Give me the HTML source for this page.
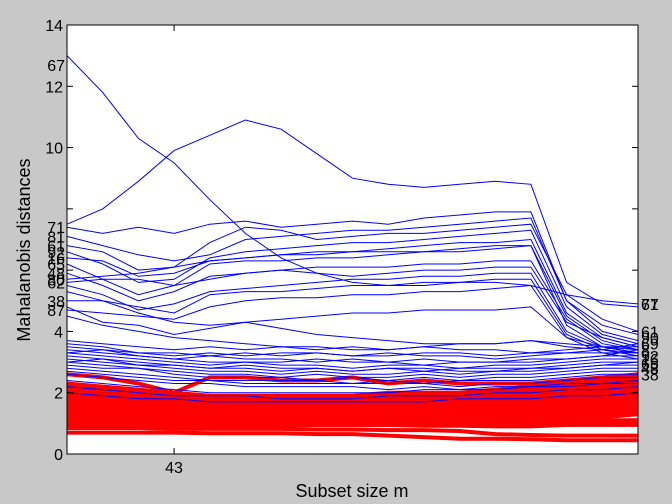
<!DOCTYPE html>
<html><head><meta charset="utf-8"><style>
body{margin:0;background:#c8c8c8;}
svg{display:block;font-family:"Liberation Sans",Arial,sans-serif;}
</style></head><body>
<svg id="chart" width="672" height="504">
<rect width="672" height="504" fill="#c8c8c8"/>
<rect x="67" y="25" width="571" height="429" fill="#fff"/>
<g id="red"></g><g id="blue"></g><g id="labels"></g><g id="axes"></g>
<rect x="67" y="25" width="571" height="429" fill="none" stroke="#000" stroke-width="1"/>
<text x="20" y="240" font-size="18" text-anchor="middle" transform="rotate(-90 30 240)">Mahalanobis distances</text>
<text x="352" y="497" font-size="18" text-anchor="middle">Subset size m</text>
</svg>
<script>
const mValues=[40,41,42,43,44,45,46,47,48,49,50,51,52,53,54,55,56];
const yTicks=[0,2,4,6,8,10,12,14];
const yTickLabels=["0","2","4","","","10","12","14"];
const xTicks=[43];
const blueUpper=[
[13.0,11.8,10.3,9.5,8.3,7.2,6.4,5.9,5.6,5.5,5.5,5.6,5.6,5.5,5.2,5.0,4.9],
[7.5,8.0,8.9,9.9,10.4,10.9,10.6,9.8,9.0,8.8,8.7,8.8,8.9,8.8,5.6,4.9,4.8],
[7.4,7.2,7.4,7.2,7.5,7.6,7.4,7.5,7.6,7.5,7.7,7.8,7.9,7.9,5.0,4.2,3.9],
[7.1,6.8,6.5,6.3,6.5,7.0,7.1,7.2,7.3,7.3,7.4,7.5,7.6,7.7,5.0,4.0,3.7],
[6.8,6.6,6.0,6.1,6.9,7.4,7.3,7.0,7.1,7.2,7.2,7.3,7.4,7.5,5.2,4.4,4.0],
[6.6,6.2,5.6,5.7,6.4,6.6,6.7,6.8,6.9,6.9,7.0,7.1,7.2,7.3,4.8,3.9,3.6],
[6.4,6.3,5.8,5.9,6.3,6.4,6.5,6.6,6.6,6.7,6.8,6.9,6.9,7.0,4.6,3.8,3.5],
[6.2,5.7,5.2,5.5,6.2,6.3,6.3,6.4,6.4,6.5,6.6,6.6,6.7,6.8,4.5,3.7,3.4],
[5.9,5.5,5.0,5.3,5.8,5.9,6.0,6.1,6.1,6.1,6.2,6.2,6.3,6.3,4.4,3.6,3.4],
[5.7,5.8,5.9,6.1,6.3,6.4,6.5,6.5,6.6,6.6,6.6,6.7,6.8,6.8,4.2,3.5,3.3],
[5.6,5.7,5.7,5.5,5.7,5.9,6.0,5.9,5.8,5.9,6.0,6.0,6.1,6.1,4.3,3.8,3.5],
[5.5,5.2,4.7,4.9,5.3,5.4,5.5,5.6,5.7,5.7,5.8,5.8,5.9,5.9,4.0,3.5,3.3],
[5.0,5.0,4.8,4.6,5.2,5.3,5.3,5.4,5.5,5.5,5.6,5.6,5.7,5.7,3.9,3.4,3.2],
[4.7,4.6,4.5,4.4,4.8,5.0,5.1,5.1,5.2,5.2,5.3,5.3,5.4,5.5,3.8,3.3,3.1],
[4.8,4.3,4.2,3.9,4.1,4.3,4.4,4.5,4.6,4.6,4.7,4.7,4.7,4.8,3.8,3.5,3.3],
[4.5,4.2,4.0,3.8,3.7,3.6,3.5,3.5,3.4,3.4,3.5,3.6,3.6,3.7,3.5,3.4,3.3],
[5.3,5.0,4.6,4.3,4.2,4.3,4.1,3.9,3.8,3.7,3.6,3.6,3.6,3.7,3.6,3.5,3.4]
];
const blueBand=[
[3.7,3.6,3.5,3.4,3.5,3.4,3.5,3.4,3.5,3.4,3.5,3.4,3.4,3.3,3.4,3.5,3.5],
[3.5,3.4,3.3,3.3,3.2,3.3,3.2,3.3,3.2,3.3,3.2,3.2,3.1,3.2,3.3,3.3,3.3],
[3.4,3.3,3.2,3.1,3.2,3.1,3.1,3.0,3.1,3.0,3.1,3.0,3.0,3.1,3.1,3.2,3.2],
[3.3,3.2,3.1,3.0,2.9,3.0,2.9,2.9,2.8,2.9,2.9,2.8,2.9,2.9,3.0,3.1,3.1],
[3.2,3.1,3.0,2.9,2.8,2.8,2.7,2.8,2.7,2.8,2.7,2.8,2.8,2.8,2.9,3.0,3.0],
[3.1,3.0,2.9,2.8,2.7,2.7,2.6,2.7,2.6,2.6,2.7,2.6,2.7,2.7,2.8,2.9,2.9],
[3.0,2.9,2.8,2.7,2.6,2.6,2.5,2.6,2.5,2.5,2.6,2.5,2.6,2.6,2.7,2.8,2.8],
[2.9,2.8,2.8,2.6,2.5,2.5,2.5,2.4,2.5,2.4,2.5,2.4,2.5,2.5,2.6,2.7,2.7],
[2.8,2.7,2.6,2.5,2.4,2.4,2.4,2.4,2.3,2.4,2.3,2.4,2.4,2.4,2.5,2.6,2.6],
[3.6,3.5,3.3,3.2,3.3,3.2,3.3,3.3,3.2,3.2,3.3,3.3,3.2,3.3,3.3,3.4,3.6],
[3.3,3.4,3.2,3.1,3.0,3.0,3.0,3.1,3.0,3.0,2.9,3.0,3.0,3.0,3.1,3.2,3.4],
[2.7,2.6,2.5,2.4,2.4,2.3,2.3,2.3,2.3,2.3,2.3,2.2,2.3,2.3,2.4,2.5,2.5],
[3.0,3.1,2.9,2.9,2.8,2.9,2.8,2.8,2.7,2.8,2.8,2.7,2.7,2.8,2.8,2.9,3.0],
[2.6,2.5,2.4,2.3,2.3,2.2,2.2,2.2,2.2,2.1,2.2,2.1,2.2,2.2,2.3,2.3,2.4],
[2.4,2.3,2.2,2.1,2.0,2.0,2.0,2.0,2.0,2.0,2.1,2.1,2.1,2.2,2.2,2.3,2.3],
[2.2,2.1,2.0,1.9,1.9,1.9,1.8,1.8,1.8,1.9,1.9,1.9,2.0,2.0,2.1,2.1,2.2],
[2.0,1.9,1.8,1.8,1.7,1.7,1.7,1.7,1.7,1.7,1.7,1.8,1.8,1.8,1.9,1.9,2.0]
];
const redLines=[
[2.6,2.5,2.3,2.0,2.5,2.5,2.4,2.4,2.5,2.3,2.4,2.3,2.3,2.3,2.4,2.5,2.6],
[2.3,2.2,2.1,2.0,1.9,1.9,1.9,1.9,1.9,2.0,2.0,2.0,2.1,2.2,2.3,2.4,2.5],
[2.2,2.1,2.0,1.9,1.8,1.8,1.8,1.8,1.8,1.9,1.9,1.9,2.0,2.1,2.2,2.3,2.4],
[2.1,2.0,1.9,1.8,1.7,1.7,1.7,1.7,1.7,1.8,1.8,1.8,1.9,2.0,2.1,2.2,2.3],
[2.0,1.9,1.8,1.7,1.6,1.6,1.6,1.6,1.6,1.7,1.7,1.7,1.8,1.9,2.0,2.1,2.2],
[1.9,1.8,1.7,1.6,1.6,1.5,1.5,1.5,1.5,1.6,1.6,1.6,1.7,1.8,1.9,2.0,2.1],
[1.8,1.7,1.6,1.5,1.5,1.4,1.4,1.4,1.4,1.5,1.5,1.5,1.6,1.7,1.8,1.9,2.0],
[1.7,1.6,1.5,1.5,1.4,1.4,1.3,1.3,1.3,1.4,1.4,1.4,1.5,1.6,1.7,1.8,1.9],
[1.6,1.5,1.4,1.4,1.3,1.3,1.3,1.3,1.3,1.3,1.3,1.4,1.4,1.5,1.6,1.7,1.8],
[1.5,1.4,1.4,1.3,1.3,1.2,1.2,1.2,1.2,1.2,1.3,1.3,1.3,1.4,1.5,1.6,1.7],
[1.4,1.4,1.3,1.3,1.2,1.2,1.2,1.2,1.2,1.2,1.2,1.2,1.3,1.3,1.4,1.5,1.6],
[1.3,1.3,1.2,1.2,1.2,1.1,1.1,1.1,1.1,1.1,1.2,1.2,1.2,1.3,1.3,1.4,1.5],
[1.2,1.2,1.2,1.1,1.1,1.1,1.1,1.1,1.1,1.1,1.1,1.1,1.2,1.2,1.2,1.3,1.4],
[1.1,1.1,1.1,1.1,1.1,1.0,1.0,1.0,1.0,1.0,1.0,1.1,1.1,1.1,1.1,1.2,1.3],
[1.0,1.0,1.0,1.0,1.0,1.0,1.0,1.0,1.0,1.0,1.0,1.0,1.0,1.0,1.0,1.1,1.1],
[0.95,0.95,0.95,0.95,0.95,0.95,0.95,0.95,0.95,0.95,0.95,0.95,0.95,0.95,1.0,1.0,1.0],
[0.9,0.9,0.9,0.9,0.92,0.92,0.92,0.95,0.95,0.95,0.92,0.92,0.9,0.9,0.95,0.95,0.95],
[0.85,0.85,0.85,0.82,0.82,0.82,0.82,0.8,0.8,0.78,0.78,0.75,0.65,0.62,0.6,0.6,0.6],
[0.7,0.7,0.7,0.7,0.68,0.68,0.68,0.65,0.65,0.6,0.55,0.5,0.5,0.48,0.45,0.45,0.45]
];
const leftLabelNames=["67","71","81","61","92","16","65","48","80","62","38","87"];
const leftLabelValues=[12.7,7.4,7.1,6.8,6.6,6.4,6.2,5.9,5.7,5.6,5.0,4.7];
const rightLabelNames=["67","71","61","90","69","8","92","16","65","48","38"];
const rightLabelValues=[4.9,4.9,4.0,3.8,3.6,3.4,3.2,3.1,2.95,2.8,2.6];

const L=67,R=638,T=25,B=454;
const mMin=40,mMax=56,yMin=0,yMax=14;
const sx=m=>L+(m-mMin)/(mMax-mMin)*(R-L);
const sy=v=>B-(v-yMin)/(yMax-yMin)*(B-T);
const NS="http://www.w3.org/2000/svg";
function mk(tag,parent){const e=document.createElementNS(NS,tag);document.getElementById(parent).appendChild(e);return e;}
function pts(arr){return arr.map((v,i)=>sx(mValues[i]).toFixed(1)+","+sy(v).toFixed(1)).join(" ");}
redLines.forEach((s,i)=>{const p=mk("polyline","red");


p.setAttribute("points",pts(s));p.setAttribute("fill","none");p.setAttribute("stroke","#ff0000");p.setAttribute("stroke-width","4");});
blueBand.concat(blueUpper).forEach((s,i)=>{const p=mk("polyline","blue");


p.setAttribute("points",pts(s));p.setAttribute("fill","none");p.setAttribute("stroke","#0000ff");p.setAttribute("stroke-width","1");});
leftLabelNames.forEach((n,i)=>{const t=mk("text","labels");


t.setAttribute("x",65);t.setAttribute("y",sy(leftLabelValues[i])+6);t.setAttribute("text-anchor","end");t.setAttribute("font-size","16");t.textContent=n;});
rightLabelNames.forEach((n,i)=>{const t=mk("text","labels");


t.setAttribute("x",641);t.setAttribute("y",sy(rightLabelValues[i])+6);t.setAttribute("font-size","16");t.textContent=n;});
yTicks.forEach((v,i)=>{const y=sy(v);
const a=mk("line","axes");
a.setAttribute("x1",L);a.setAttribute("x2",L+6);a.setAttribute("y1",y);a.setAttribute("y2",y);a.setAttribute("stroke","#000");
const b=mk("line","axes");
b.setAttribute("x1",R-6);b.setAttribute("x2",R);b.setAttribute("y1",y);b.setAttribute("y2",y);b.setAttribute("stroke","#000");
if(yTickLabels[i]){const t=mk("text","axes");
t.setAttribute("x",63);t.setAttribute("y",y+6);t.setAttribute("text-anchor","end");t.setAttribute("font-size","16");t.textContent=yTickLabels[i];}});
xTicks.forEach(m=>{const x=sx(m);
const a=mk("line","axes");
a.setAttribute("x1",x);a.setAttribute("x2",x);a.setAttribute("y1",B);a.setAttribute("y2",B-6);a.setAttribute("stroke","#000");
const b=mk("line","axes");
b.setAttribute("x1",x);b.setAttribute("x2",x);b.setAttribute("y1",T);b.setAttribute("y2",T+6);b.setAttribute("stroke","#000");
const t=mk("text","axes");
t.setAttribute("x",x);t.setAttribute("y",473);t.setAttribute("text-anchor","middle");t.setAttribute("font-size","16");t.textContent=String(m);});
</script>
</body></html>
